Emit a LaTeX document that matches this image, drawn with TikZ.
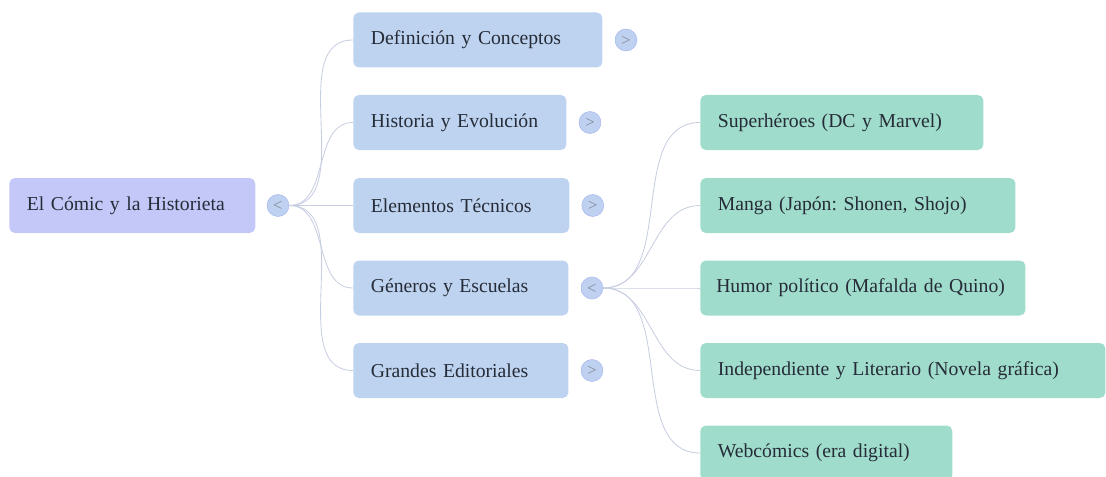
\documentclass[tikz,border=0pt]{standalone}
\usepackage{fontspec}
\setmainfont{Liberation Serif}
\usetikzlibrary{positioning}
\frenchspacing

\definecolor{rootfill}{HTML}{C3C8F8}
\definecolor{topicfill}{HTML}{BDD3EF}
\definecolor{subfill}{HTML}{9FDCCB}
\definecolor{togglefill}{HTML}{BFD1F0}
\definecolor{linkcol}{HTML}{C8CEE2}
\definecolor{inkcol}{HTML}{262B38}

\tikzset{
  box/.style={rectangle, rounded corners=4pt, anchor=west, minimum height=1.375cm,
    inner xsep=0.44cm, align=left, text=inkcol, font=\fontsize{14}{16}\selectfont},
  rootbox/.style={box, fill=rootfill},
  topicbox/.style={box, fill=topicfill},
  subbox/.style={box, fill=subfill},
  toggle/.style={circle, fill=togglefill, draw=togglefill!85!blue, line width=0.3pt,
    minimum size=0.55cm, inner sep=0pt, text=inkcol!65, font=\small},
  link/.style={draw=linkcol, line width=0.6pt}
}

\begin{document}
\begin{tikzpicture}
\useasboundingbox (0,0) rectangle (27.65,-11.925);

% root
\node[rootbox, text width=5.27cm] (root) at (0.225,-5.1375) {El Cómic y la Historieta};
\node[toggle, right=0.28cm of root] (troot) {$<$};

% first level
\node[topicbox, text width=5.35cm] (def) at (8.825,-1.0) {Definición y Conceptos};
\node[topicbox, text width=4.45cm] (hist) at (8.825,-3.0625) {Historia y Evolución};
\node[topicbox, text width=4.52cm] (elem) at (8.825,-5.1375) {Elementos Técnicos};
\node[topicbox, text width=4.5cm] (gen) at (8.825,-7.2) {Géneros y Escuelas};
\node[topicbox, text width=4.5cm] (edit) at (8.825,-9.2625) {Grandes Editoriales};

\node[toggle, right=0.3cm of def] (tdef) {$>$};
\node[toggle, right=0.3cm of hist] (thist) {$>$};
\node[toggle, right=0.3cm of elem] (telem) {$>$};
\node[toggle, right=0.3cm of gen] (tgen) {$<$};
\node[toggle, right=0.3cm of edit] (tedit) {$>$};

% second level
\node[subbox, text width=6.2cm] (sup) at (17.5,-3.0625) {Superhéroes (DC y Marvel)};
\node[subbox, text width=7.0cm] (manga) at (17.5,-5.1375) {Manga (Japón: Shonen, Shojo)};
\node[subbox, text width=7.33cm, inner xsep=0.4cm] (humor) at (17.5,-7.2) {Humor político (Mafalda de Quino)};
\node[subbox, text width=9.25cm] (indep) at (17.5,-9.2625) {Independiente y Literario (Novela gráfica)};
\node[subbox, text width=5.42cm] (web) at (17.5,-11.325) {Webcómics (era digital)};

% links
\foreach \n in {def,hist,elem,gen,edit}
  \draw[link] (troot.east) to[out=0,in=180] (\n.west);
\foreach \n in {sup,manga,humor,indep,web}
  \draw[link] (tgen.east) to[out=0,in=180] (\n.west);
\end{tikzpicture}
\end{document}
